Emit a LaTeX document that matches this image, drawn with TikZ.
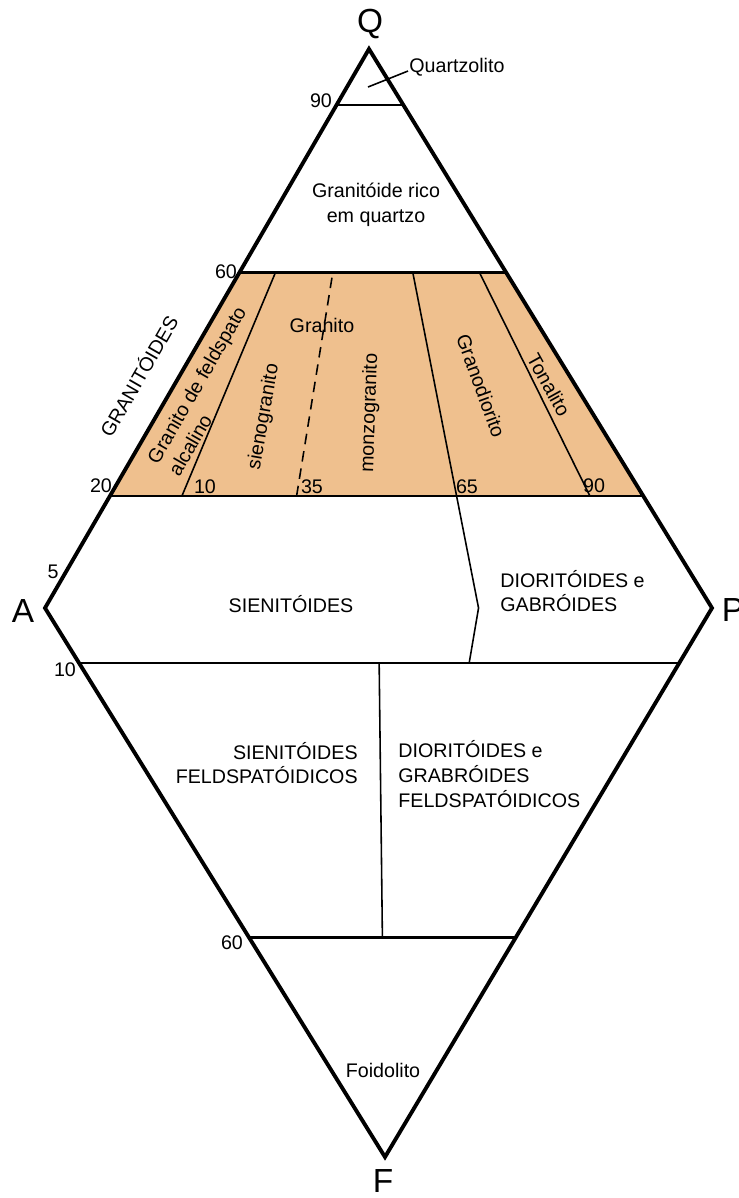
\documentclass[tikz,border=0pt]{standalone}
\usepackage{fontspec}
\setmainfont{Liberation Sans}
\usepackage{xcolor}
\usepackage{tikz}
\usetikzlibrary{calc}
\definecolor{granfill}{RGB}{239,192,142}

\begin{document}
\begin{tikzpicture}[
  x=0.02cm,y=-0.02cm,
  rim/.style={line width=2.2pt,line join=miter},
  level/.style={line width=1.3pt},
  split/.style={line width=0.9pt},
  field/.style={inner sep=0pt,font=\fontsize{11.2}{14}\selectfont,align=center},
  num/.style={inner sep=0pt,font=\fontsize{11.2}{14}\selectfont},
  apex/.style={inner sep=0pt,font=\fontsize{19}{22}\selectfont}
]
\useasboundingbox (0,0) rectangle (738,1198);
\coordinate (Q) at (369,49);
\coordinate (A) at (45,608);
\coordinate (P) at (712,608);
\coordinate (F) at (385,1157);
\coordinate (q90L) at ($(A)!0.9!(Q)$);
\coordinate (q90R) at ($(P)!0.9!(Q)$);
\coordinate (q60L) at ($(A)!0.6!(Q)$);
\coordinate (q60R) at ($(P)!0.6!(Q)$);
\coordinate (q20L) at ($(A)!0.2!(Q)$);
\coordinate (q20R) at ($(P)!0.2!(Q)$);
\coordinate (f10L) at ($(A)!0.1!(F)$);
\coordinate (f10R) at ($(P)!0.1!(F)$);
\coordinate (f60L) at ($(A)!0.6!(F)$);
\coordinate (f60R) at ($(P)!0.6!(F)$);
\coordinate (ap65) at ($(A)!0.65!(P)$);
\coordinate (qz1) at (368,87);
\coordinate (qz2) at (408,71);
\fill[granfill] (q60L) -- (q60R) -- (q20R) -- (q20L) -- cycle;
\draw[level] (q90L) -- (q90R);
\draw[level] (q60L) -- (q60R);
\draw[level] (q20L) -- (q20R);
\draw[level] (f10L) -- (f10R);
\draw[level] (f60L) -- (f60R);
\draw[split] ($(q20L)!0.135!(q20R)$) -- ($(q60L)!0.135!(q60R)$);
\draw[split,dashed,dash pattern=on 6pt off 4pt] ($(q20L)!0.35!(q20R)$) -- ($(q60L)!0.35!(q60R)$);
\draw[split] ($(q20L)!0.65!(q20R)$) -- ($(q60L)!0.65!(q60R)$);
\draw[split] ($(q20L)!0.9!(q20R)$) -- ($(q60L)!0.9!(q60R)$);
\draw[split] ($(q20L)!0.65!(q20R)$) -- (ap65) -- ($(f10L)!0.65!(f10R)$);
\draw[split] ($(f10L)!0.5!(f10R)$) -- ($(f60L)!0.5!(f60R)$);
\draw[split] (qz1) -- (qz2);
\draw[rim] (Q) -- (P) -- (F) -- (A) -- cycle;
\node[apex] (vQ) at (370,24) {Q};
\node[apex] (vA) at (23,611) {A};
\node[apex] (vP) at (733,610) {P};
\node[apex] (vF) at (383,1181) {F};
\node[num,anchor=west] (quartzolito) at (409,67) {Quartzolito};
\node[field] (rico) at (376,205) {Granitóide rico\\em quartzo};
\node[field,rotate=60] (granitoides) at (138,376) {GRANITÓIDES};
\node[field,rotate=60,align=left] (alcalino) at (207,391) {Granito de feldspato\\alcalino};
\node[field,rotate=80] (sieno) at (264,417) {sienogranito};
\node[field] (granito) at (322,325) {Granito};
\node[field,rotate=88] (monzo) at (370,413) {monzogranito};
\node[field,rotate=-70] (grano) at (481,386) {Granodiorito};
\node[field,rotate=-61] (tonalito) at (549,385) {Tonalito};
\node[num] (n90a) at (321,101) {90};
\node[num] (n60a) at (226,272) {60};
\node[num] (n20) at (101,486) {20};
\node[num] (n10a) at (205,487) {10};
\node[num] (n35) at (312,487) {35};
\node[num] (n65) at (467,487) {65};
\node[num] (n90b) at (594,486) {90};
\node[num] (n5) at (53,572) {5};
\node[num] (n10b) at (65,670) {10};
\node[num] (n60b) at (232,943) {60};
\node[field] (sien) at (291,604) {SIENITÓIDES};
\node[field,align=left,anchor=west] (dior) at (500,591) {DIORITÓIDES e\\GABRÓIDES};
\node[field,align=right,anchor=east] (sienf) at (358,763) {SIENITÓIDES\\FELDSPATÓIDICOS};
\node[field,align=left,anchor=west] (diorf) at (398,774) {DIORITÓIDES e\\GRABRÓIDES\\FELDSPATÓIDICOS};
\node[field] (foid) at (383,1070) {Foidolito};
\end{tikzpicture}
\end{document}
